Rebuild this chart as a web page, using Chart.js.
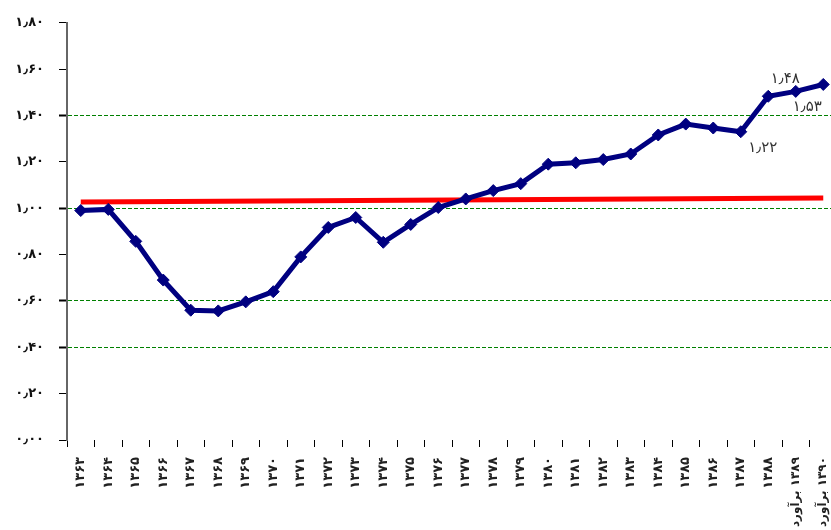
<!DOCTYPE html>
<html lang="fa">
<head>
<meta charset="utf-8">
<title>chart</title>
<script src="https://cdn.jsdelivr.net/npm/chart.js@4.4.1/dist/chart.umd.min.js"></script>
<style>
  html, body { margin: 0; padding: 0; background: #fff; overflow: hidden; }
  #chart { display: block; }
</style>
</head>
<body>
<canvas id="chart" width="837" height="530"></canvas>
<script>
// سال‌ها (محور افقی)
const years = [
  '۱۳۶۳', '۱۳۶۴', '۱۳۶۵', '۱۳۶۶', '۱۳۶۷', '۱۳۶۸', '۱۳۶۹', '۱۳۷۰', '۱۳۷۱', '۱۳۷۲',
  '۱۳۷۳', '۱۳۷۴', '۱۳۷۵', '۱۳۷۶', '۱۳۷۷', '۱۳۷۸', '۱۳۷۹', '۱۳۸۰', '۱۳۸۱', '۱۳۸۲',
  '۱۳۸۳', '۱۳۸۴', '۱۳۸۵', '۱۳۸۶', '۱۳۸۷', '۱۳۸۸', '\u200F۱۳۸۹ برآورد', '\u200F۱۳۹۰ برآورد'
];

// سری اصلی
const ratio = [
  0.99, 0.995, 0.857, 0.69, 0.56, 0.557, 0.596, 0.64, 0.79, 0.917,
  0.96, 0.853, 0.93, 1.003, 1.04, 1.076, 1.106, 1.19, 1.196, 1.21,
  1.234, 1.316, 1.363, 1.346, 1.33, 1.483, 1.504, 1.534
];

// خط روند قرمز (فقط دو سر)
const trendStart = 1.027;
const trendEnd = 1.044;

// برچسب‌های نوشته شده کنار نقاط
const noteIndex = [25, 27, 24];
const noteText = ['۱٫۴۸', '۱٫۵۳', '۱٫۲۲'];

const yTicks = [0, 0.2, 0.4, 0.6, 0.8, 1.0, 1.2, 1.4, 1.6, 1.8];
const gridAt = [0.4, 0.6, 1.0, 1.4];

const faDigits = '۰۱۲۳۴۵۶۷۸۹';
const toFa = (s) => String(s).replace(/\d/g, (d) => faDigits[d]).replace('.', '٫');

const trendData = years.map((_, i) => i === 0 ? trendStart : (i === years.length - 1 ? trendEnd : null));
const hasGrid = (v) => gridAt.some((g) => Math.abs(g - v) < 1e-6);

const noteOffsets = [[17, -17], [-16, 23], [22, 16]];

const notesPlugin = {
  id: 'notes',
  afterDatasetsDraw(chart) {
    const meta = chart.getDatasetMeta(1);
    const ctx = chart.ctx;
    ctx.save();
    ctx.font = '15px "DejaVu Sans", sans-serif';
    ctx.fillStyle = '#333';
    ctx.textAlign = 'center';
    ctx.textBaseline = 'middle';
    noteIndex.forEach((idx, k) => {
      const pt = meta.data[idx];
      ctx.fillText(noteText[k], pt.x + noteOffsets[k][0], pt.y + noteOffsets[k][1]);
    });
    ctx.restore();
  }
};

new Chart(document.getElementById('chart'), {
  type: 'line',
  data: {
    labels: years,
    datasets: [{
      label: 'trend',
      data: trendData,
      spanGaps: true,
      borderColor: '#ff0000',
      borderWidth: 5,
      pointRadius: 0,
      order: 2
    }, {
      label: 'ratio',
      data: ratio,
      borderColor: '#000080',
      backgroundColor: '#000080',
      borderWidth: 5,
      pointStyle: 'rectRot',
      pointRadius: 6,
      pointBorderWidth: 1,
      tension: 0,
      order: 1
    }]
  },
  options: {
    responsive: false,
    animation: false,
    layout: { autoPadding: false, padding: { top: 19, right: 0, bottom: 0, left: 0 } },
    plugins: {
      legend: { display: false },
      tooltip: { enabled: false }
    },
    scales: {
      x: {
        offset: true,
        border: { display: false },
        grid: {
          offset: true,
          drawOnChartArea: false,
          tickLength: 7,
          tickColor: '#000',
          tickWidth: 1
        },
        ticks: {
          autoSkip: false,
          maxRotation: 90,
          minRotation: 90,
          padding: 10,
          color: '#222',
          font: (c) => ({
            family: '"DejaVu Sans", sans-serif',
            size: c.index >= 26 ? 12 : 13,
            weight: 'bold'
          })
        },
        afterFit(scale) {
          scale.height = 90;
          scale.paddingLeft = 0;
          scale.paddingRight = 0;
        }
      },
      y: {
        min: 0,
        max: 1.8,
        afterBuildTicks(scale) { scale.ticks = yTicks.map((v) => ({ value: v })); },
        border: { display: true, color: '#666', width: 2, dash: [4, 2] },
        grid: {
          color: (c) => hasGrid(c.tick.value) ? '#008000' : 'rgba(0,0,0,0)',
          lineWidth: 1,
          tickLength: 8,
          tickColor: '#000',
          tickWidth: (c) => hasGrid(c.tick.value) ? 2 : 1
        },
        ticks: {
          padding: 15,
          color: '#111',
          font: { family: '"DejaVu Sans", sans-serif', size: 13, weight: 'bold' },
          callback: (v) => toFa(Number(v).toFixed(2))
        },
        afterFit(scale) { scale.width = 67; }
      }
    }
  },
  plugins: [notesPlugin]
});
</script>
</body>
</html>
